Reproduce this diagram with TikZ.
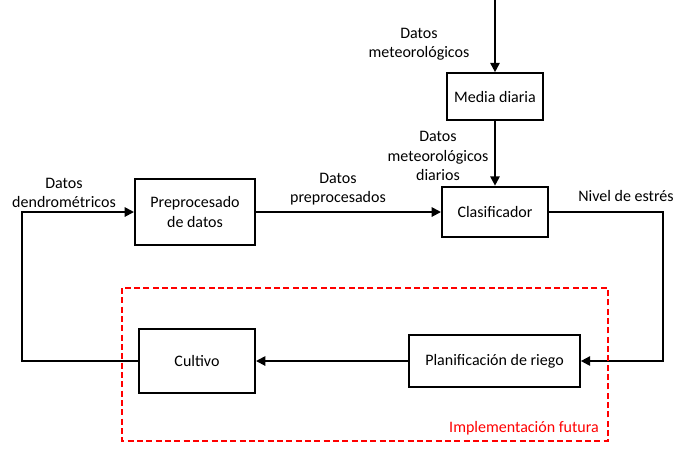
\documentclass[tikz,border=0pt]{standalone}
\usepackage{fontspec}
\setmainfont{Carlito}
\usetikzlibrary{arrows.meta}
\tikzset{
  bloque/.style={draw, line width=1.5pt, align=center, inner sep=0pt},
  flecha/.style={line width=1.4pt, -{Triangle[length=7pt,width=7pt]}},
  etiqueta/.style={align=center, inner sep=0pt},
}
\begin{document}
\begin{tikzpicture}[x=0.75pt,y=-0.75pt,font=\fontsize{12}{14.5}\selectfont]
                \useasboundingbox (0,0) rectangle (698,462);
                \node[bloque, minimum width=72pt, minimum height=35pt] (media) at (495,96.5) {Media diaria};
                \node[bloque, minimum width=90pt, minimum height=49.5pt] (prep) at (195,212) {Preprocesado\\de datos};
                \node[bloque, minimum width=79.5pt, minimum height=38pt] (clasif) at (495,212) {Clasificador};
                \node[bloque, minimum width=87pt, minimum height=48pt] (cultivo) at (197,361) {Cultivo};
                \node[bloque, minimum width=128pt, minimum height=39pt] (plan) at (494.5,361) {Planificación de riego};

                \coordinate (entrada) at (495,0);
                \coordinate (derecha) at (663,0);
                \coordinate (izquierda) at (22,0);

                \draw[flecha] (entrada) -- (media);
                \draw[flecha] (media) -- (clasif);
                \draw[flecha] (prep.east) -- (clasif.west);
                \draw[flecha] (clasif.east) -| (derecha |- plan.east) -- (plan.east);
                \draw[flecha] (plan.west) -- (cultivo.east);
                \draw[flecha] (cultivo.west) -| (izquierda |- prep.west) -- (prep.west);

                \node[etiqueta] (meteo) at (419,44) {Datos\\meteorológicos};
                \node[etiqueta] (diarios) at (438,156) {Datos\\meteorológicos\\diarios};
                \node[etiqueta] (dendro) at (64,193) {Datos\\dendrométricos};
                \node[etiqueta] (preproc) at (338,189) {Datos\\preprocesados};
                \node[etiqueta] (estres) at (626,196) {Nivel de estrés};

                \draw[red, dashed, line width=1.2pt, dash pattern=on 4.5pt off 2.5pt] (122,288) rectangle (608,441);
                \node[etiqueta, text=red] (futura) at (524,428) {Implementación futura};
            \end{tikzpicture}
\end{document}
